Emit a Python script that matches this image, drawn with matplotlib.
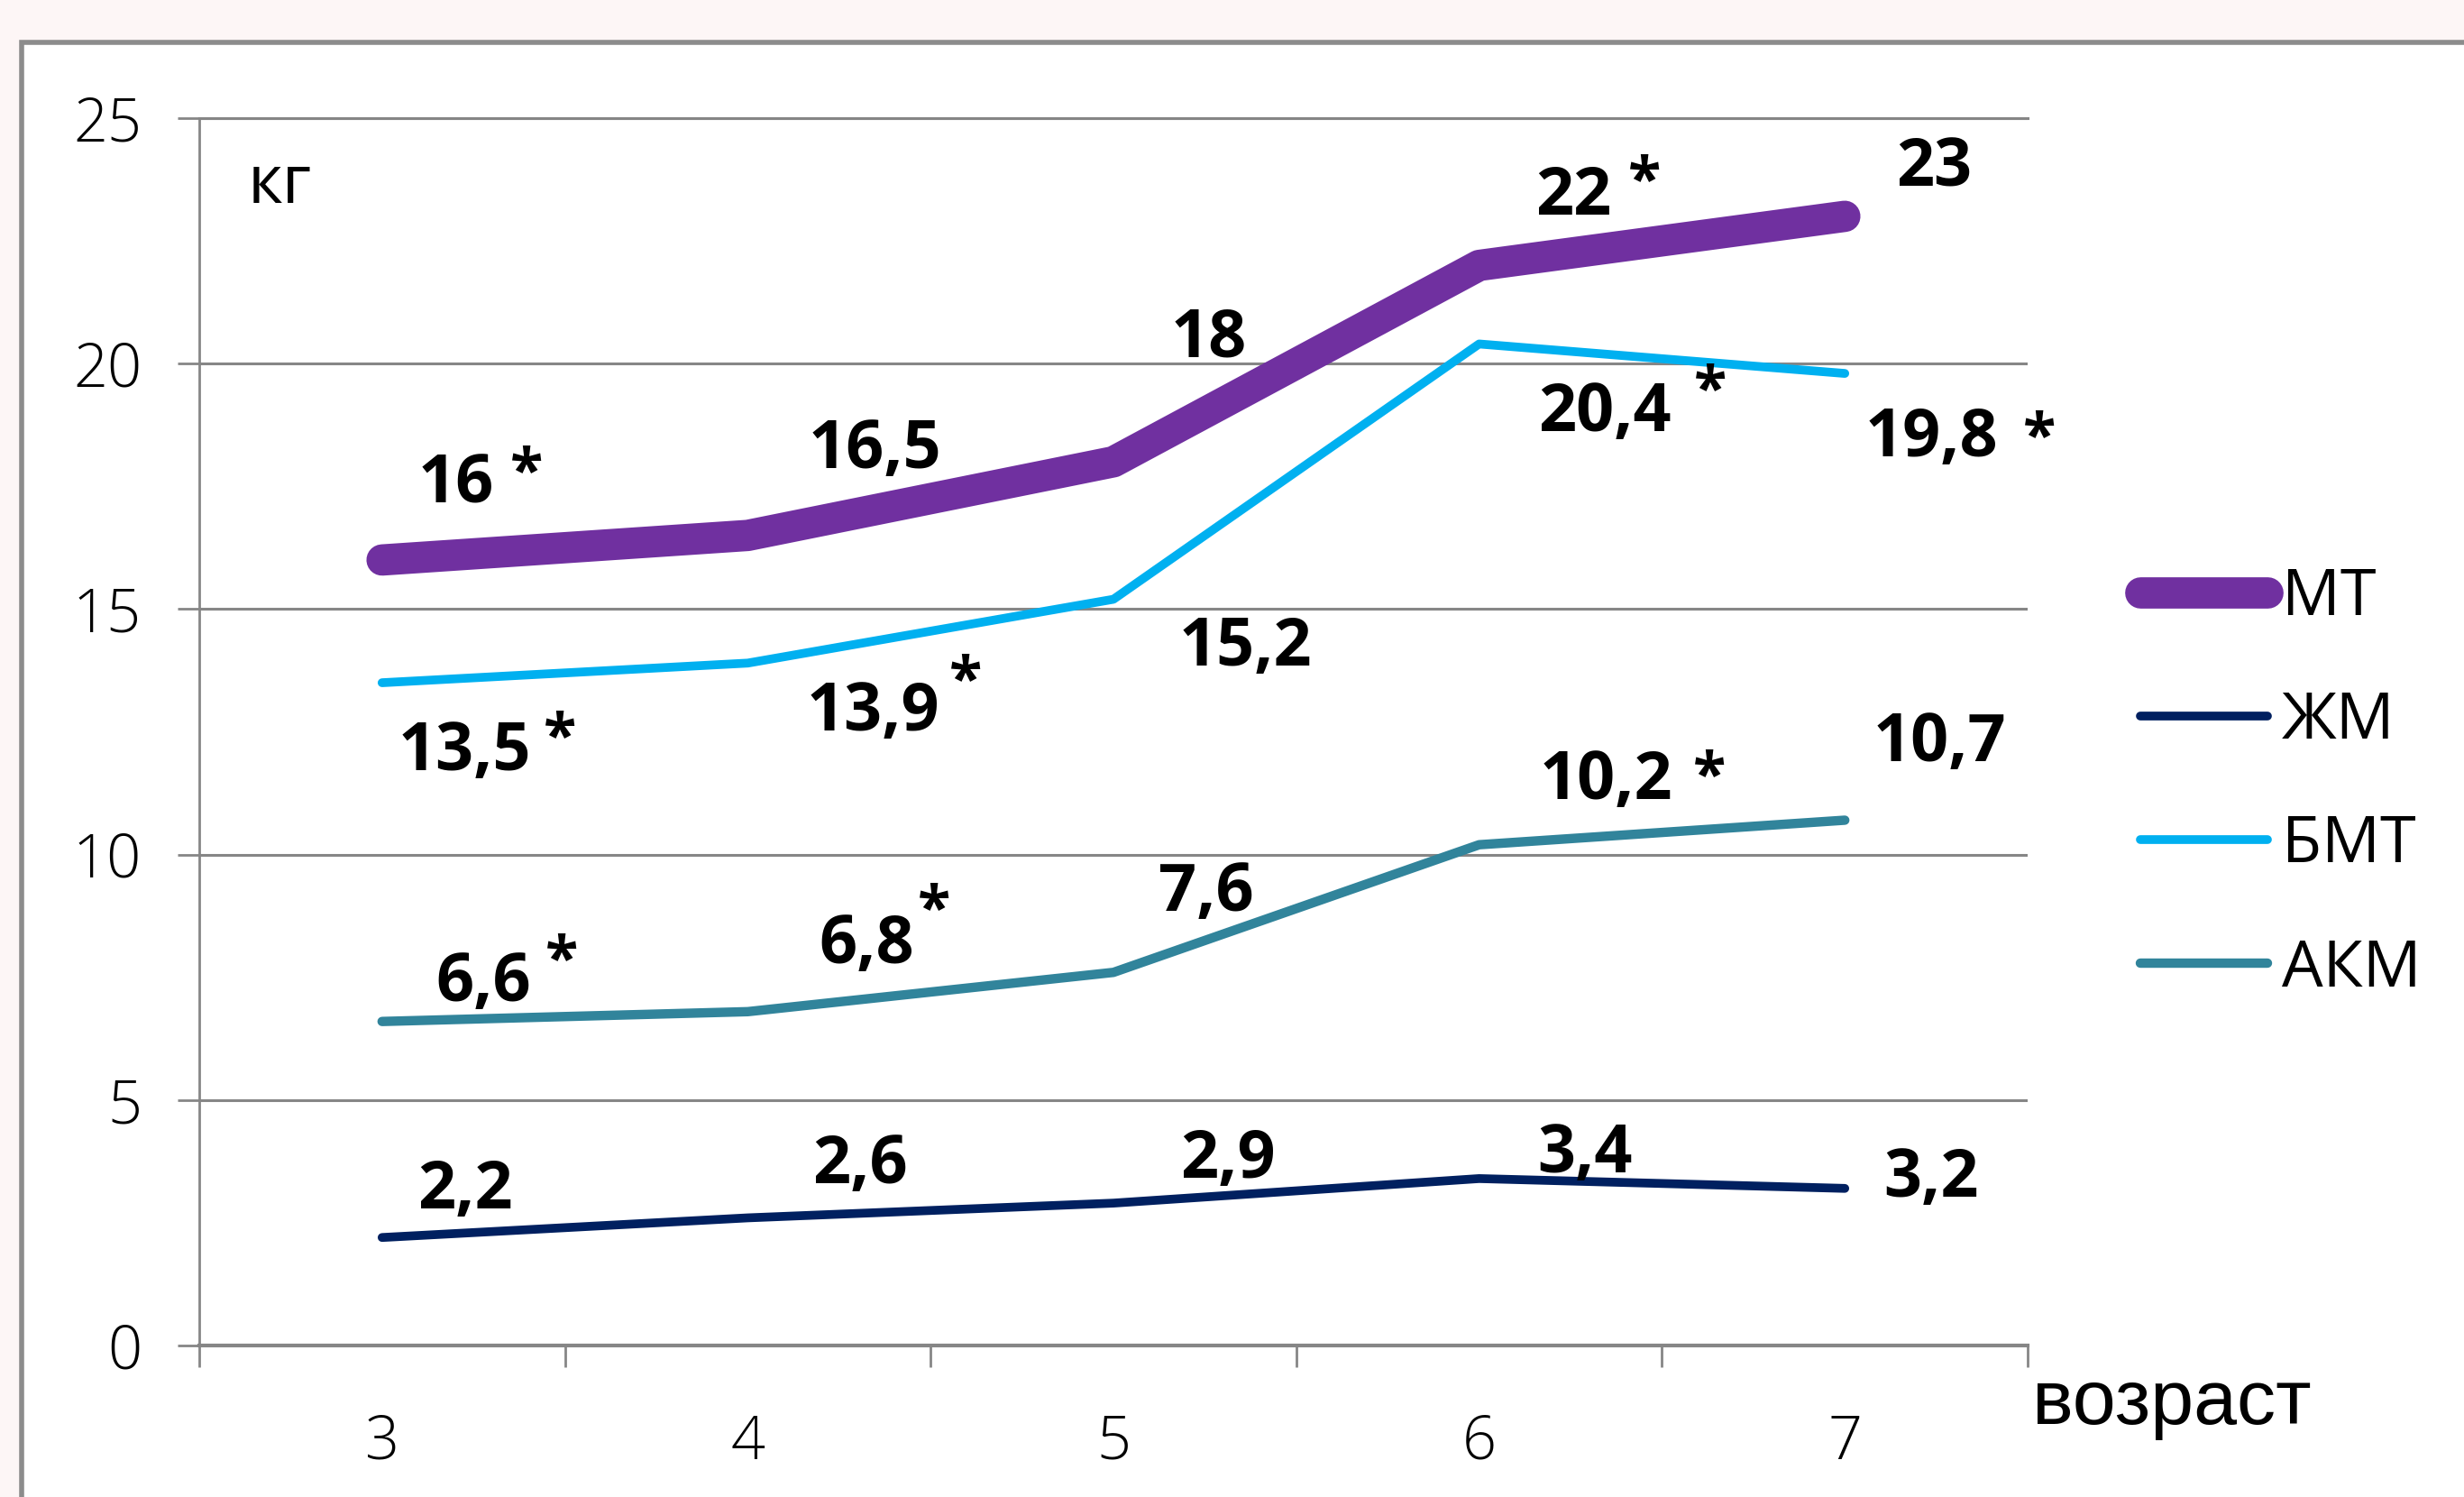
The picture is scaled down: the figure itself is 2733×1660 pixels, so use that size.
import matplotlib.pyplot as plt
from matplotlib.patches import Rectangle

ages = ['3', '4', '5', '6', '7']
series_names = ['МТ', 'ЖМ', 'БМТ', 'АКМ']

mt = [16, 16.5, 18, 22, 23]
zhm = [2.2, 2.6, 2.9, 3.4, 3.2]
bmt = [13.5, 13.9, 15.2, 20.4, 19.8]
akm = [6.6, 6.8, 7.6, 10.2, 10.7]

# which points carry a significance mark
mt_star = [True, False, False, True, False]
zhm_star = [False, False, False, False, False]
bmt_star = [True, True, False, True, True]
akm_star = [True, True, False, True, False]

colors = ['#7030A0', '#002060', '#00B0F0', '#31849B']
widths = [25, 7, 7, 7.5]

# label placement (pixel offsets from the point): value text, then the star
label_off = [
    [(82, 82), (141, 94), (106, 136), (105, 75), (99, 52)],
    [(92, 51), (125, 57), (127, 47), (117, 26), (96, 10)],
    [(92, -78), (139, -56), (146, -54), (139, -78), (96, -73)],
    [(112, 42), (132, 73), (103, 87), (141, 70), (105, 84)],
]
star_off = [
    [(160, 94), None, None, (183, 91), None],
    [None] * 5,
    [(197, -63), (242, -22), None, (256, -54), (216, -73)],
    [(199, 65), (207, 110), None, (255, 73), None],
]

W, H = 2733, 1660
fig = plt.figure(figsize=(W / 100, H / 100), dpi=100)
fig.patch.set_facecolor('#FDF6F6')
fig.patches.append(Rectangle((24 / W, -0.05), 1.2, 1 - 47 / H + 0.05,
                             transform=fig.transFigure, facecolor='white',
                             edgecolor='#8C8C8C', linewidth=4, zorder=-1))

ax = fig.add_axes([221 / W, 1 - 1492 / H, (2249 - 221) / W, (1492 - 131) / H])
ax.set_facecolor('none')

font = ['Open Sans', 'DejaVu Sans']
x = range(len(ages))
values = [mt, zhm, bmt, akm]
stars = [mt_star, zhm_star, bmt_star, akm_star]

for k, vals in enumerate(values):
    ax.plot(x, vals, color=colors[k], linewidth=widths[k], label=series_names[k],
            solid_capstyle='round', solid_joinstyle='round', zorder=3)
    for i, v in enumerate(vals):
        txt = f'{v:g}'.replace('.', ',')
        ax.annotate(txt, (i, v), xytext=label_off[k][i], textcoords='offset pixels',
                    ha='center', va='center', fontsize=53, fontweight='bold',
                    family=font, color='black', zorder=4)
        if stars[k][i]:
            ax.annotate('*', (i, v), xytext=star_off[k][i], textcoords='offset pixels',
                        ha='center', va='center', fontsize=48, fontweight='bold',
                        family=font, color='black', zorder=4)

ax.set_xlim(-0.5, len(ages) - 0.5)
ax.set_ylim(0, 25)
ax.set_yticks([0, 5, 10, 15, 20, 25])
ax.set_yticklabels(['0', '5', '10', '15', '20', '25'], family=font, fontsize=48,
                   fontweight='light')
ax.set_xticks(list(x))
ax.set_xticklabels(ages, family=font, fontsize=48, fontweight='light')
ax.set_xticks([i - 0.5 for i in range(len(ages) + 1)], minor=True)
ax.tick_params(axis='x', which='major', length=0, pad=54)
ax.tick_params(axis='x', which='minor', length=17, width=2, color='#868686', direction='out')
ax.tick_params(axis='y', length=17, width=2, color='#868686', pad=29)
ax.yaxis.grid(True, color='#868686', linewidth=2.2)
ax.set_axisbelow(True)

ax.spines['right'].set_visible(False)
for side in ['left', 'bottom', 'top']:
    ax.spines[side].set_color('#868686')
ax.spines['left'].set_linewidth(2)
ax.spines['top'].set_linewidth(2.2)
ax.spines['bottom'].set_linewidth(3)

ax.text(0.044, 0.945, 'кг', transform=ax.transAxes, ha='center', va='center',
        fontsize=54, family=font)
ax.text(1.0025, -0.048, 'возраст', transform=ax.transAxes, ha='left', va='center',
        fontsize=62, family=['Liberation Sans', 'DejaVu Sans'])

leg = ax.legend(loc='center left', bbox_to_anchor=(2374 / W, 1 - 869 / H),
                bbox_transform=fig.transFigure, frameon=False, borderpad=0,
                borderaxespad=0, handlelength=1.95, handletextpad=0.22,
                labelspacing=0.91, prop={'family': font, 'size': 52})

fig.savefig('out.png', dpi=100, facecolor=fig.get_facecolor())
